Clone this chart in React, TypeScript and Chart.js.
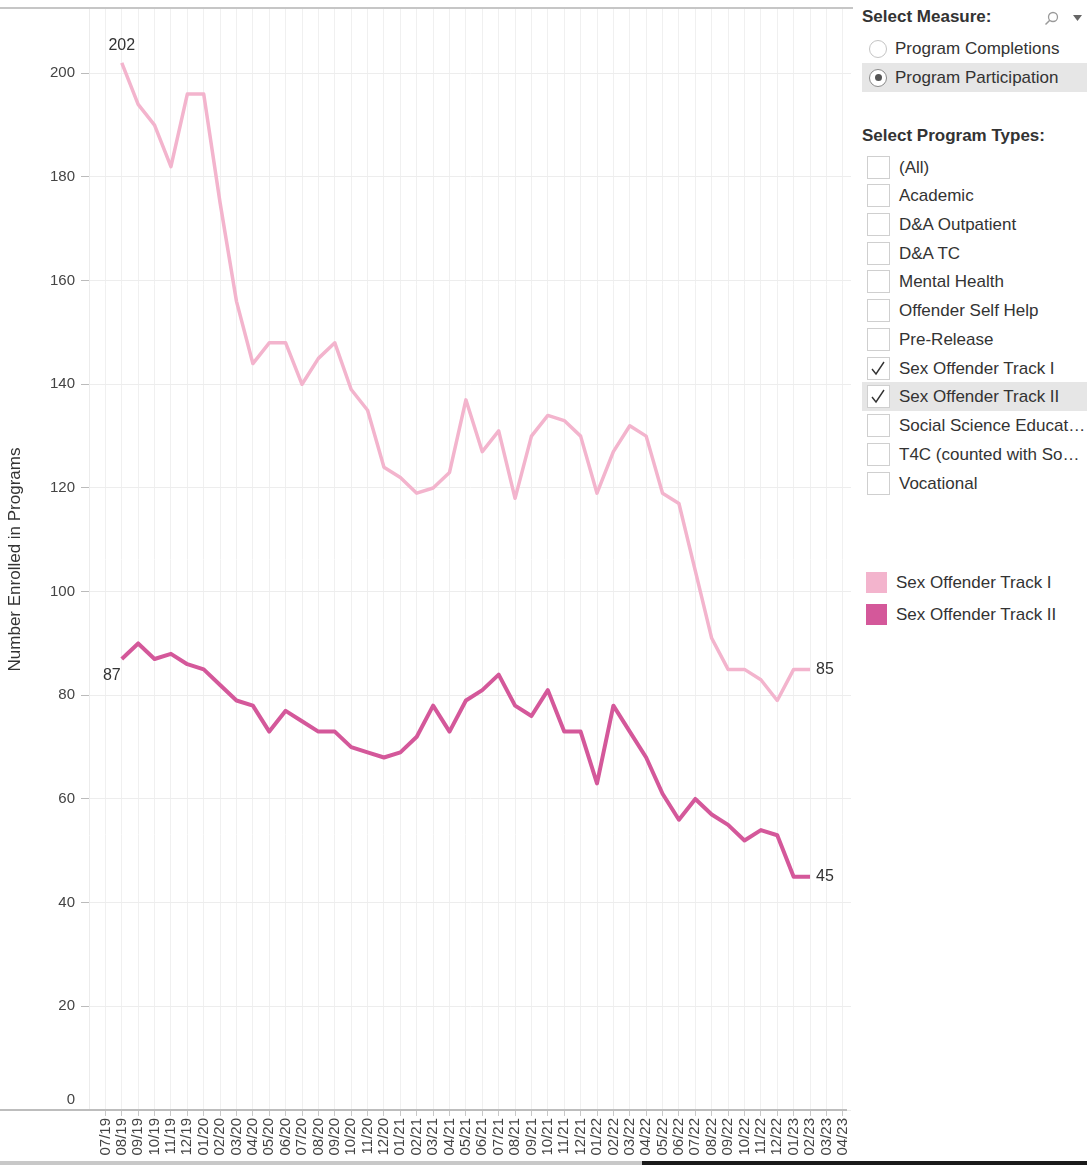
import { useEffect, useRef } from 'react';
import { Chart, registerables } from 'chart.js';

Chart.register(...registerables);

const FONT = '"Liberation Sans", Arial, sans-serif';

const months = [
  '07/19', '08/19', '09/19', '10/19', '11/19', '12/19',
  '01/20', '02/20', '03/20', '04/20', '05/20', '06/20', '07/20', '08/20', '09/20', '10/20', '11/20', '12/20',
  '01/21', '02/21', '03/21', '04/21', '05/21', '06/21', '07/21', '08/21', '09/21', '10/21', '11/21', '12/21',
  '01/22', '02/22', '03/22', '04/22', '05/22', '06/22', '07/22', '08/22', '09/22', '10/22', '11/22', '12/22',
  '01/23', '02/23', '03/23', '04/23',
];

const trackI: (number | null)[] = [
  null, 202, 194, 190, 182, 196,
  196, 175, 156, 144, 148, 148, 140, 145, 148, 139, 135, 124,
  122, 119, 120, 123, 137, 127, 131, 118, 130, 134, 133, 130,
  119, 127, 132, 130, 119, 117, 104, 91, 85, 85, 83, 79,
  85, 85, null, null,
];

const trackII: (number | null)[] = [
  null, 87, 90, 87, 88, 86,
  85, 82, 79, 78, 73, 77, 75, 73, 73, 70, 69, 68,
  69, 72, 78, 73, 79, 81, 84, 78, 76, 81, 73, 73,
  63, 78, 73, 68, 61, 56, 60, 57, 55, 52, 54, 53,
  45, 45, null, null,
];

const yTicks = [0, 20, 40, 60, 80, 100, 120, 140, 160, 180, 200];

const seriesNames = ['Sex Offender Track I', 'Sex Offender Track II'];
const seriesColors = ['#f3b4cd', '#d4589a'];

const measures = ['Program Completions', 'Program Participation'];
const selectedMeasure = 'Program Participation';

const programTypes = [
  '(All)', 'Academic', 'D&A Outpatient', 'D&A TC', 'Mental Health', 'Offender Self Help',
  'Pre-Release', 'Sex Offender Track I', 'Sex Offender Track II', 'Social Science Educat…',
  'T4C (counted with So…', 'Vocational',
];
const checkedTypes = ['Sex Offender Track I', 'Sex Offender Track II'];
const highlightedType = 'Sex Offender Track II';

function toPoints(arr: (number | null)[]) {
  return arr
    .map((v, i) => ({ x: i, y: v }))
    .filter((p) => p.y !== null) as { x: number; y: number }[];
}

function firstLast(arr: (number | null)[]) {
  const vals = arr.filter((v) => v !== null) as number[];
  return [vals[0], vals[vals.length - 1]];
}

const framePlugin = {
  id: 'frame',
  afterDraw(chart: any) {
    const { ctx, chartArea } = chart;
    ctx.save();
    ctx.strokeStyle = '#c6c6c6';
    ctx.lineWidth = 2;
    ctx.beginPath();
    ctx.moveTo(0, 8);
    ctx.lineTo(chartArea.right + 2, 8);
    ctx.stroke();
    ctx.strokeStyle = '#bdbdbd';
    ctx.beginPath();
    ctx.moveTo(0, chartArea.bottom);
    ctx.lineTo(chartArea.right - 4, chartArea.bottom);
    ctx.stroke();
    // zero label sits just above the axis line
    const ys = chart.scales.y;
    ctx.font = '15px ' + FONT;
    ctx.fillStyle = '#444';
    ctx.textAlign = 'right';
    ctx.textBaseline = 'middle';
    ctx.fillText('0', ys.right - 14, ys.getPixelForValue(0) - 10);
    ctx.restore();
  },
};

const valueLabelPlugin = {
  id: 'valueLabels',
  afterDatasetsDraw(chart: any) {
    const { ctx } = chart;
    const m0 = chart.getDatasetMeta(0).data;
    const m1 = chart.getDatasetMeta(1).data;
    const [f1, l1] = firstLast(trackI);
    const [f2, l2] = firstLast(trackII);
    ctx.save();
    ctx.font = '16px ' + FONT;
    ctx.fillStyle = '#333';
    ctx.textBaseline = 'middle';
    ctx.textAlign = 'center';
    ctx.fillText(String(f1), m0[0].x, m0[0].y - 17);
    ctx.fillText(String(f2), m1[0].x - 10, m1[0].y + 17);
    ctx.textAlign = 'left';
    const e0 = m0[m0.length - 1];
    const e1 = m1[m1.length - 1];
    ctx.fillText(String(l1), e0.x + 6, e0.y);
    ctx.fillText(String(l2), e1.x + 6, e1.y);
    ctx.restore();
  },
};

function ChartCanvas() {
  const ref = useRef<HTMLCanvasElement | null>(null);
  useEffect(() => {
    document.body.style.margin = '0';
    if (!ref.current) return;
    Chart.defaults.font.family = FONT;
    const chart = new Chart(ref.current, {
      type: 'line',
      data: {
        datasets: [
          {
            label: seriesNames[0],
            data: toPoints(trackI),
            borderColor: seriesColors[0],
            backgroundColor: seriesColors[0],
            borderWidth: 3.5,
            pointRadius: 0,
            tension: 0,
            borderJoinStyle: 'round',
          },
          {
            label: seriesNames[1],
            data: toPoints(trackII),
            borderColor: seriesColors[1],
            backgroundColor: seriesColors[1],
            borderWidth: 4,
            pointRadius: 0,
            tension: 0,
            borderJoinStyle: 'round',
          },
        ],
      },
      options: {
        responsive: false,
        animation: false,
        devicePixelRatio: 1,
        layout: { padding: { top: 9, right: 9, left: 0, bottom: 0 } },
        plugins: { legend: { display: false }, tooltip: { enabled: false } },
        scales: {
          x: {
            type: 'linear',
            min: -1,
            max: 45.5,
            afterBuildTicks: (s: any) => {
              s.ticks = months.map((_, i) => ({ value: i }));
            },
            afterFit: (s: any) => {
              s.height = 55;
              s.paddingLeft = 0;
              s.paddingRight = 0;
            },
            ticks: {
              autoSkip: false,
              maxRotation: 90,
              minRotation: 90,
              padding: 2,
              font: { size: 15 },
              color: '#444',
              callback: (v: any) => months[v] ?? '',
            },
            grid: {
              color: '#f0f0f0',
              tickColor: '#c8c8c8',
              tickLength: 6,
            },
            border: { display: false },
          },
          y: {
            min: 0,
            max: 212.4,
            afterBuildTicks: (s: any) => {
              s.ticks = yTicks.map((v) => ({ value: v }));
            },
            afterFit: (s: any) => {
              s.width = 89;
              s.paddingTop = 0;
              s.paddingBottom = 0;
            },
            ticks: {
              padding: 6,
              font: { size: 15 },
              color: '#444',
              callback: (v: any) => (v === 0 ? '' : String(v)),
            },
            grid: {
              color: '#ededed',
              tickColor: '#bbbbbb',
              tickLength: 8,
            },
            border: { display: true, color: '#ececec' },
            title: {
              display: true,
              text: 'Number Enrolled in Programs',
              font: { size: 17 },
              color: '#333',
              padding: { top: 5, bottom: 0 },
            },
          },
        },
      },
      plugins: [framePlugin, valueLabelPlugin],
    } as any);
    return () => chart.destroy();
  }, []);
  return <canvas ref={ref} width={860} height={1165} style={{ position: 'absolute', left: 0, top: 0 }} />;
}

function Radio({ label, selected, top }: { label: string; selected: boolean; top: number }) {
  return (
    <div
      style={{
        position: 'absolute', left: 862, top, width: 225, height: 29,
        display: 'flex', alignItems: 'center',
        background: selected ? '#e6e6e6' : 'transparent',
      }}
    >
      <div
        style={{
          marginLeft: 7, width: 18, height: 18, borderRadius: '50%', boxSizing: 'border-box',
          border: '1px solid ' + (selected ? '#8a8a8a' : '#c4c4c4'), background: '#fff',
          display: 'flex', alignItems: 'center', justifyContent: 'center',
        }}
      >
        {selected && <div style={{ width: 7, height: 7, borderRadius: '50%', background: '#555' }} />}
      </div>
      <span style={{ marginLeft: 8, fontSize: 17, color: '#333', whiteSpace: 'nowrap' }}>{label}</span>
    </div>
  );
}

function Check({ label, checked, highlighted, top }: { label: string; checked: boolean; highlighted: boolean; top: number }) {
  return (
    <div
      style={{
        position: 'absolute', left: 862, top, width: 225, height: 29,
        display: 'flex', alignItems: 'center', overflow: 'hidden',
        background: highlighted ? '#e6e6e6' : 'transparent',
      }}
    >
      <div
        style={{
          marginLeft: 5, width: 23, height: 23, flex: 'none', boxSizing: 'border-box',
          border: '1px solid #cfcfcf', background: '#fff', position: 'relative',
        }}
      >
        {checked && (
          <svg width={21} height={21} style={{ position: 'absolute', left: 0, top: 0 }}>
            <polyline points="4,11 8,16 16,4" fill="none" stroke="#333" strokeWidth={1.4} />
          </svg>
        )}
      </div>
      <span style={{ marginLeft: 9, fontSize: 17, color: '#333', whiteSpace: 'nowrap' }}>{label}</span>
    </div>
  );
}

export default function App() {
  return (
    <div
      style={{
        position: 'relative', width: 1087, height: 1165, overflow: 'hidden',
        fontFamily: FONT, background: '#fff',
      }}
    >
      <ChartCanvas />
      <div style={{ position: 'absolute', left: 862, top: 7, fontSize: 17, fontWeight: 'bold', color: '#333', lineHeight: '20px' }}>
        Select Measure:
      </div>
      <svg width={40} height={16} style={{ position: 'absolute', left: 1043, top: 11 }}>
        <circle cx={10} cy={6} r={4.5} fill="none" stroke="#9a9a9a" strokeWidth={1.3} />
        <line x1={6.8} y1={9.3} x2={2.5} y2={13.5} stroke="#9a9a9a" strokeWidth={1.5} />
        <polygon points="30,4 39,4 34.5,10" fill="#666" />
      </svg>
      {measures.map((m, i) => (
        <Radio key={m} label={m} selected={m === selectedMeasure} top={34 + i * 29} />
      ))}
      <div style={{ position: 'absolute', left: 862, top: 126, fontSize: 17, fontWeight: 'bold', color: '#333', lineHeight: '20px' }}>
        Select Program Types:
      </div>
      {programTypes.map((p, i) => (
        <Check
          key={p}
          label={p}
          checked={checkedTypes.includes(p)}
          highlighted={p === highlightedType}
          top={Math.round(152.5 + i * 28.73)}
        />
      ))}
      {seriesNames.map((n, i) => (
        <div key={n} style={{ position: 'absolute', left: 866, top: 572 + i * 32, height: 21, display: 'flex', alignItems: 'center' }}>
          <div style={{ width: 21, height: 21, background: seriesColors[i] }} />
          <span style={{ marginLeft: 9, fontSize: 17, color: '#333', whiteSpace: 'nowrap' }}>{n}</span>
        </div>
      ))}
      <div style={{ position: 'absolute', left: 0, top: 1161, width: 642, height: 4, background: '#c8c8c8' }} />
      <div style={{ position: 'absolute', left: 642, top: 1161, width: 445, height: 4, background: '#1a1a1a' }} />
    </div>
  );
}
